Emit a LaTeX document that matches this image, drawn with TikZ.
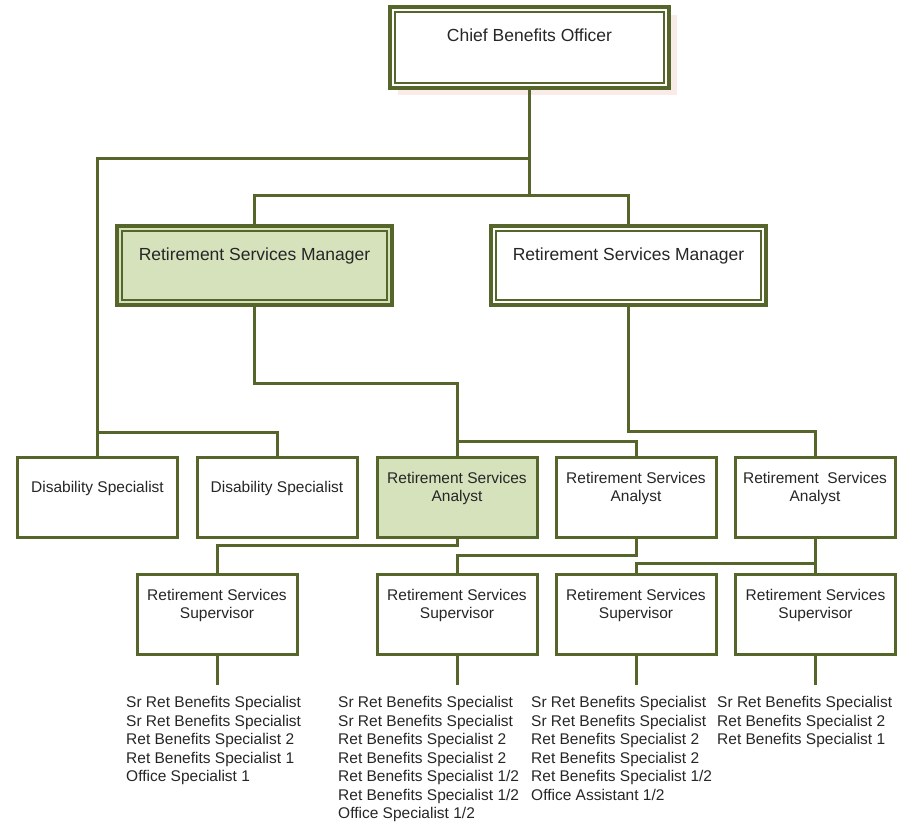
\documentclass[tikz,border=0pt]{standalone}
\usepackage{fontspec}
\setmainfont{Liberation Sans}
\usetikzlibrary{calc}
\definecolor{olv}{HTML}{56662B}
\definecolor{lgr}{HTML}{D6E2BC}
\definecolor{shd}{HTML}{F8EBE8}
\definecolor{txc}{HTML}{262626}
\begin{document}
\begin{tikzpicture}[x=1pt,y=-1pt,
 conn/.style={draw=olv, line width=3pt},
 sbox/.style={draw=olv, line width=3pt, fill=white, minimum width=160pt, minimum height=80pt, inner sep=0pt, outer sep=0pt},
 gbox/.style={sbox, fill=lgr},
 dbox/.style={draw=olv, line width=4pt, fill=white, minimum width=275pt, minimum height=79pt, inner sep=0pt, outer sep=0pt},
 dgbox/.style={dbox, fill=lgr},
 inl/.style={draw=olv, line width=1.6pt},
 lbl/.style={align=center, yshift=8.5pt, inner sep=0pt, font=\fontsize{15.5}{18}\selectfont, text=txc},
 blbl/.style={align=center, yshift=12pt, inner sep=0pt, font=\fontsize{17.5}{21}\selectfont, text=txc},
 lst/.style={align=left, anchor=north west, inner sep=0pt, font=\fontsize{15.5}{18.5}\selectfont, text=txc}
]
\useasboundingbox (0,0) rectangle (908,822);

% top box with shadow
\fill[shd] (398,15) rectangle (677,95);
\node[dbox, minimum width=279pt, minimum height=81pt, label={[blbl, yshift=0.5pt]center:Chief Benefits Officer}] (cbo) at (529.5,47.5) {};
\draw[inl] ([shift={(5pt,-5pt)}]cbo.north west) rectangle ([shift={(-5pt,5pt)}]cbo.south east);

% managers
\node[dgbox, label={[blbl, yshift=-2pt]center:Retirement Services Manager}] (m1) at (254.5,265.5) {};
\draw[inl] ([shift={(5pt,-5pt)}]m1.north west) rectangle ([shift={(-5pt,5pt)}]m1.south east);
\node[dbox, label={[blbl, yshift=-2pt]center:Retirement Services Manager}] (m2) at (628.5,265.5) {};
\draw[inl] ([shift={(5pt,-5pt)}]m2.north west) rectangle ([shift={(-5pt,5pt)}]m2.south east);

% row 3
\node[sbox, label={[lbl]center:Disability Specialist}] (d1) at (97.5,497) {};
\node[sbox, label={[lbl]center:Disability Specialist}] (d2) at (277,497) {};
\node[gbox, label={[lbl]center:{Retirement Services\\Analyst}}] (a1) at (457,497) {};
\node[sbox, label={[lbl]center:{Retirement Services\\Analyst}}] (a2) at (636,497) {};
\node[sbox, label={[lbl]center:{Retirement\ \ Services\\Analyst}}] (a3) at (815,497) {};

% row 4
\node[sbox, label={[lbl]center:{Retirement Services\\Supervisor}}] (s1) at (217,614) {};
\node[sbox, label={[lbl]center:{Retirement Services\\Supervisor}}] (s2) at (457,614) {};
\node[sbox, label={[lbl]center:{Retirement Services\\Supervisor}}] (s3) at (636,614) {};
\node[sbox, label={[lbl]center:{Retirement Services\\Supervisor}}] (s4) at (815.5,614) {};

% connectors
\draw[conn] (cbo.south) -- (cbo.south |- 0,195);
\draw[conn] (m1.north) |- (m2.north |- 0,195) -- (m2.north);
\draw[conn] (cbo.south |- 0,158) -| (d1.north);
\draw[conn] (d1.north |- 0,432) -| (d2.north);
\draw[conn] (m1.south) |- (a1.north |- 0,383) -- (a1.north);
\draw[conn] (a1.north |- 0,441) -| (a2.north);
\draw[conn] (m2.south) |- (a3.north |- 0,431) -- (a3.north);
\draw[conn] (a1.south) |- (s1.north |- 0,545) -- (s1.north);
\draw[conn] (a2.south) |- (s2.north |- 0,555) -- (s2.north);
\draw[conn] (a3.south) -- (a3.south |- s4.north);
\draw[conn] (a3.south |- 0,563) -| (s3.north);

\coordinate (t1) at (217,685);
\coordinate (t2) at (457,685);
\coordinate (t3) at (636,685);
\coordinate (t4) at (815.5,685);
\draw[conn] (s1.south) -- (t1);
\draw[conn] (s2.south) -- (t2);
\draw[conn] (s3.south) -- (t3);
\draw[conn] (s4.south) -- (t4);

% lists
\node[lst] (l1) at (126,696.5) {Sr Ret Benefits Specialist\\Sr Ret Benefits Specialist\\Ret Benefits Specialist 2\\Ret Benefits Specialist 1\\Office Specialist 1};
\node[lst] (l2) at (338,696.5) {Sr Ret Benefits Specialist\\Sr Ret Benefits Specialist\\Ret Benefits Specialist 2\\Ret Benefits Specialist 2\\Ret Benefits Specialist 1/2\\Ret Benefits Specialist 1/2\\Office Specialist 1/2};
\node[lst] (l3) at (531,696.5) {Sr Ret Benefits Specialist\\Sr Ret Benefits Specialist\\Ret Benefits Specialist 2\\Ret Benefits Specialist 2\\Ret Benefits Specialist 1/2\\Office Assistant 1/2};
\node[lst] (l4) at (717,696.5) {Sr Ret Benefits Specialist\\Ret Benefits Specialist 2\\Ret Benefits Specialist 1};
\end{tikzpicture}
\end{document}
